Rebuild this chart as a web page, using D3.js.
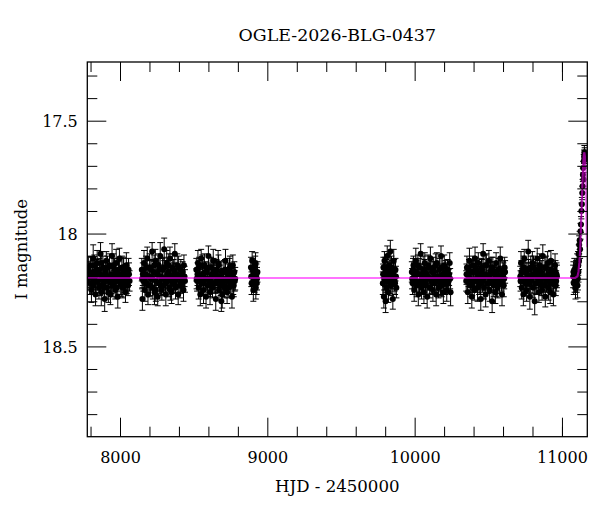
<!DOCTYPE html>
<html>
<head>
<meta charset="utf-8">
<script src="https://cdn.jsdelivr.net/npm/d3@7"></script>
<style>
  body { margin: 0; background: #fff; }
  svg { font-family: "DejaVu Serif", serif; }
</style>
</head>
<body>
<div id="chart"></div>
<script>
// OGLE light curve, one array per observing season: [HJD-2450000, I mag, error]
const s2017 = [
  [7783,18.20,.05],[7790,18.17,.045],[7795,18.22,.05],[7801,18.14,.04],[7806,18.25,.055],[7812,18.19,.045],[7818,18.11,.06],[7822,18.23,.04],[7829,18.20,.05],[7834,18.27,.05],[7840,18.16,.045],
  [7845,18.13,.055],[7851,18.21,.04],[7857,18.24,.05],[7862,18.18,.045],[7868,18.09,.05],[7873,18.26,.06],[7879,18.20,.04],[7884,18.15,.05],[7890,18.22,.045],[7896,18.29,.055],
  [7901,18.17,.05],[7907,18.12,.04],[7912,18.24,.05],[7918,18.19,.045],[7924,18.21,.06],[7929,18.14,.05],[7935,18.27,.045],[7940,18.18,.04],[7946,18.10,.055],[7952,18.23,.05],
  [7957,18.20,.045],[7963,18.16,.05],[7968,18.25,.04],[7974,18.13,.06],[7980,18.21,.045],[7985,18.28,.05],[7991,18.18,.055],[7996,18.11,.045],[8002,18.22,.05],[8008,18.19,.04],
  [8013,18.15,.05],[8019,18.24,.045],[8025,18.17,.06],[8031,18.21,.05],[8037,18.26,.045],[8043,18.14,.055],[8049,18.20,.05],[8055,18.23,.045],[8061,18.18,.05],
  [7787,18.15,.045],[7798,18.19,.05],[7809,18.22,.045],[7815,18.17,.05],[7826,18.14,.045],[7837,18.21,.05],[7848,18.18,.045],[7859,18.16,.05],[7865,18.23,.045],[7876,18.13,.05],
  [7887,18.19,.045],[7893,18.24,.05],[7904,18.20,.045],[7915,18.15,.05],[7921,18.26,.045],[7932,18.19,.05],[7943,18.22,.045],[7955,18.14,.05],[7960,18.21,.045],[7971,18.18,.05],
  [7977,18.24,.045],[7988,18.16,.05],[7999,18.20,.045],[8011,18.23,.05],[8022,18.15,.045],[8034,18.19,.05],[8046,18.22,.045],[8058,18.16,.05],[8065,18.21,.045]
];
const s2018 = [
  [8148,18.16,.05],[8152,18.29,.05],[8158,18.21,.045],[8163,18.13,.055],[8169,18.25,.05],[8174,18.18,.045],[8180,18.22,.04],[8185,18.11,.05],[8190,18.27,.045],[8196,18.19,.05],
  [8201,18.15,.06],[8207,18.23,.045],[8212,18.20,.05],[8218,18.08,.04],[8223,18.24,.05],[8229,18.17,.045],[8234,18.26,.055],[8240,18.12,.05],[8245,18.21,.045],[8251,18.18,.05],
  [8256,18.28,.04],[8262,18.14,.05],[8267,18.22,.045],[8273,18.10,.06],[8278,18.19,.05],[8284,18.25,.045],[8289,18.16,.05],[8295,18.23,.04],[8300,18.07,.05],[8306,18.20,.045],
  [8311,18.27,.05],[8317,18.13,.055],[8322,18.21,.045],[8328,18.17,.05],[8333,18.24,.04],[8339,18.11,.05],[8344,18.19,.045],[8350,18.26,.05],[8355,18.15,.06],[8361,18.22,.045],
  [8366,18.18,.05],[8372,18.09,.045],[8377,18.24,.05],[8383,18.20,.04],[8389,18.14,.05],[8395,18.27,.045],[8401,18.19,.05],[8407,18.23,.055],[8413,18.16,.045],[8419,18.21,.05],
  [8425,18.17,.045],[8431,18.25,.05],[8438,18.19,.045],
  [8150,18.20,.045],[8155,18.18,.05],[8166,18.21,.045],[8177,18.15,.05],[8188,18.19,.045],[8199,18.23,.05],[8210,18.16,.045],[8221,18.20,.05],[8232,18.14,.045],[8243,18.25,.05],
  [8254,18.18,.045],[8265,18.16,.05],[8276,18.23,.045],[8287,18.20,.05],[8298,18.15,.045],[8309,18.22,.05],[8320,18.18,.045],[8331,18.14,.05],[8342,18.25,.045],[8353,18.20,.05],
  [8364,18.16,.045],[8375,18.21,.05],[8386,18.18,.045],[8398,18.15,.05],[8410,18.22,.045],[8422,18.19,.05],[8434,18.14,.045],[8441,18.21,.05]
];
const s2019 = [
  [8518,18.16,.05],[8523,18.21,.045],[8529,18.13,.055],[8534,18.24,.05],[8540,18.19,.045],[8545,18.27,.05],[8551,18.11,.04],[8556,18.22,.05],[8562,18.18,.045],[8567,18.25,.06],
  [8573,18.14,.05],[8578,18.20,.045],[8584,18.28,.05],[8589,18.17,.04],[8595,18.23,.05],[8600,18.10,.045],[8606,18.21,.05],[8611,18.26,.055],[8617,18.15,.045],[8622,18.19,.05],
  [8628,18.24,.045],[8633,18.12,.05],[8639,18.22,.04],[8644,18.18,.05],[8650,18.29,.05],[8655,18.16,.045],[8661,18.21,.05],[8666,18.13,.055],[8672,18.25,.045],[8677,18.19,.05],
  [8683,18.23,.045],[8688,18.30,.045],[8694,18.27,.06],[8699,18.20,.045],[8705,18.17,.05],[8710,18.24,.045],[8716,18.12,.05],[8721,18.21,.04],[8727,18.26,.05],[8732,18.18,.045],
  [8738,18.18,.05],[8743,18.16,.05],[8749,18.22,.045],[8754,18.19,.055],[8760,18.28,.05],[8766,18.14,.045],[8772,18.23,.05],[8779,18.21,.045],
  [8520,18.20,.045],[8526,18.18,.05],[8537,18.15,.045],[8548,18.21,.05],[8559,18.14,.045],[8570,18.22,.05],[8581,18.17,.045],[8592,18.20,.05],[8603,18.15,.045],[8614,18.23,.05],
  [8625,18.18,.045],[8636,18.16,.05],[8647,18.22,.045],[8658,18.19,.05],[8669,18.14,.045],[8680,18.21,.05],[8691,18.17,.045],[8702,18.23,.05],[8713,18.16,.045],[8724,18.20,.05],
  [8735,18.24,.045],[8746,18.15,.05],[8757,18.20,.045],[8769,18.22,.05],[8776,18.17,.045],[8782,18.20,.05]
];
const s2020 = [
  [8889,18.15,.045],[8893,18.22,.05],[8897,18.12,.04],[8901,18.19,.045],[8905,18.25,.05],[8909,18.17,.045],
  [8913,18.21,.05],[8918,18.14,.04],[8922,18.24,.05],[8926,18.18,.045],[8930,18.20,.05],
  [8891,18.19,.045],[8899,18.16,.05],[8907,18.21,.045],[8915,18.18,.05],[8920,18.13,.045],[8928,18.22,.05],[8933,18.17,.045]
];
const s2022 = [
  [9784,18.22,.05],[9788,18.15,.045],[9791,18.28,.05],[9795,18.12,.04],[9799,18.19,.045],[9803,18.30,.05],[9806,18.16,.045],[9810,18.24,.05],[9814,18.10,.045],[9818,18.21,.05],
  [9822,18.26,.045],[9826,18.14,.05],[9830,18.19,.045],[9835,18.08,.05],[9840,18.23,.045],[9846,18.17,.05],[9852,18.29,.045],[9858,18.12,.05],[9864,18.21,.045],[9870,18.16,.05],[9876,18.24,.045],
  [9786,18.18,.045],[9793,18.20,.05],[9801,18.15,.045],[9808,18.21,.05],[9816,18.17,.045],[9824,18.19,.05],[9832,18.22,.045],[9843,18.15,.05],[9849,18.20,.045],[9855,18.18,.05],
  [9861,18.16,.045],[9867,18.22,.05],[9873,18.19,.045]
];
const s2023 = [
  [9981,18.17,.045],[9986,18.22,.05],[9992,18.14,.04],[9997,18.25,.05],[10003,18.19,.045],[10008,18.12,.055],[10014,18.23,.05],[10019,18.18,.045],[10025,18.27,.05],[10030,18.15,.04],
  [10036,18.21,.05],[10041,18.09,.045],[10047,18.24,.05],[10052,18.19,.045],[10058,18.16,.06],[10063,18.26,.05],[10069,18.13,.045],[10074,18.22,.05],[10080,18.18,.04],[10085,18.28,.05],
  [10091,18.14,.045],[10096,18.20,.05],[10102,18.24,.045],[10107,18.11,.05],[10113,18.21,.055],[10118,18.17,.045],[10124,18.25,.05],[10129,18.15,.045],[10135,18.22,.05],[10140,18.19,.04],
  [10146,18.27,.05],[10151,18.13,.045],[10157,18.20,.05],[10162,18.24,.045],[10168,18.16,.05],[10173,18.21,.06],[10179,18.10,.045],[10184,18.23,.05],[10190,18.18,.045],[10195,18.26,.05],
  [10201,18.14,.045],[10206,18.22,.05],[10212,18.19,.045],[10218,18.25,.05],[10224,18.16,.045],[10231,18.21,.05],[10238,18.13,.045],[10244,18.26,.06],
  [9983,18.20,.045],[9989,18.16,.05],[10000,18.21,.045],[10011,18.17,.05],[10022,18.14,.045],[10033,18.22,.05],[10044,18.18,.045],[10055,18.21,.05],[10066,18.16,.045],[10077,18.23,.05],
  [10088,18.19,.045],[10099,18.15,.05],[10110,18.20,.045],[10121,18.22,.05],[10132,18.17,.045],[10143,18.14,.05],[10154,18.21,.045],[10165,18.19,.05],[10176,18.23,.045],[10187,18.15,.05],
  [10198,18.20,.045],[10209,18.17,.05],[10221,18.22,.045],[10234,18.18,.05],[10241,18.20,.045]
];
const s2024 = [
  [10350,18.21,.045],[10355,18.15,.05],[10361,18.26,.05],[10366,18.19,.045],[10372,18.12,.055],[10377,18.23,.05],[10383,18.17,.045],[10388,18.28,.05],[10394,18.14,.04],[10399,18.21,.05],
  [10405,18.25,.045],[10410,18.11,.05],[10416,18.20,.045],[10421,18.17,.05],[10427,18.24,.06],[10432,18.13,.045],[10438,18.22,.05],[10443,18.19,.045],[10449,18.29,.05],[10454,18.15,.04],
  [10460,18.21,.05],[10465,18.09,.045],[10471,18.24,.05],[10476,18.18,.045],[10482,18.27,.055],[10487,18.14,.05],[10493,18.22,.045],[10498,18.19,.05],[10504,18.12,.045],[10509,18.25,.05],
  [10515,18.17,.045],[10520,18.21,.05],[10526,18.30,.05],[10531,18.15,.045],[10537,18.23,.05],[10542,18.18,.04],[10548,18.26,.05],[10553,18.13,.045],[10559,18.20,.05],[10564,18.24,.045],
  [10570,18.16,.05],[10575,18.22,.045],[10581,18.11,.05],[10587,18.19,.045],[10593,18.27,.05],[10599,18.17,.045],[10605,18.23,.05],[10611,18.15,.045],
  [10352,18.18,.045],[10358,18.21,.05],[10369,18.16,.045],[10380,18.20,.05],[10391,18.23,.045],[10402,18.17,.05],[10413,18.15,.045],[10424,18.21,.05],[10435,18.18,.045],[10446,18.22,.05],
  [10457,18.16,.045],[10468,18.20,.05],[10479,18.14,.045],[10490,18.19,.05],[10501,18.22,.045],[10512,18.18,.05],[10523,18.15,.045],[10534,18.21,.05],[10545,18.17,.045],[10556,18.23,.05],
  [10567,18.19,.045],[10578,18.16,.05],[10590,18.21,.045],[10602,18.18,.05],[10608,18.20,.045],[10614,18.17,.05]
];
const s2025 = [
  [10717,18.19,.045],[10722,18.13,.05],[10727,18.24,.05],[10733,18.17,.045],[10738,18.27,.05],[10744,18.11,.04],[10749,18.21,.05],[10755,18.16,.045],[10760,18.25,.05],[10766,18.19,.045],
  [10771,18.08,.05],[10777,18.22,.045],[10782,18.28,.055],[10788,18.15,.05],[10793,18.20,.045],[10799,18.13,.05],[10804,18.24,.045],[10810,18.18,.05],[10815,18.30,.06],[10821,18.16,.045],
  [10826,18.22,.05],[10832,18.11,.045],[10837,18.19,.05],[10843,18.26,.045],[10848,18.14,.05],[10854,18.21,.04],[10859,18.17,.05],[10865,18.25,.045],[10870,18.10,.05],[10876,18.23,.045],
  [10881,18.19,.05],[10887,18.28,.045],[10892,18.15,.05],[10898,18.21,.045],[10903,18.13,.05],[10909,18.24,.055],[10914,18.18,.045],[10920,18.26,.05],[10925,18.12,.045],[10931,18.22,.05],
  [10936,18.17,.045],[10942,18.27,.05],[10947,18.20,.045],[10953,18.14,.05],[10958,18.23,.045],[10963,18.18,.05],
  [10719,18.21,.045],[10725,18.17,.05],[10730,18.20,.045],[10741,18.15,.05],[10752,18.22,.045],[10763,18.18,.05],[10774,18.16,.045],[10785,18.21,.05],[10796,18.19,.045],[10807,18.15,.05],
  [10818,18.22,.045],[10829,18.18,.05],[10840,18.20,.045],[10851,18.16,.05],[10862,18.23,.045],[10873,18.19,.05],[10884,18.15,.045],[10895,18.21,.05],[10906,18.18,.045],[10917,18.20,.05],
  [10928,18.16,.045],[10939,18.22,.05],[10950,18.19,.045],[10956,18.17,.05],[10961,18.21,.045],[10966,18.19,.05]
];
const s2026 = [
  [11076,18.19,.05],[11080,18.22,.05],[11084,18.16,.05],[11088,18.20,.045],[11092,18.24,.05],[11096,18.17,.05],[11100,18.21,.05],[11103,18.14,.05],
  [11106,18.23,.055],[11109,18.12,.04],[11112,18.17,.045],[11114,18.09,.04],[11117,18.05,.04],[11120,18.03,.04],[11123,18.07,.04],[11126,17.99,.035],
  [11129,17.96,.035],[11132,17.90,.035],[11135,17.87,.03],[11138,17.82,.03],[11140,17.79,.03],[11142,17.74,.03],[11144,17.71,.03],[11146,17.76,.03],
  [11148,17.68,.03],[11150,17.66,.03],[11152,17.64,.03],[11154,17.65,.03],[11156,17.67,.03],
  [11078,18.17,.045],[11086,18.21,.05],[11094,18.19,.045],[11101,18.18,.05],[11108,18.20,.05],[11111,18.14,.045],[11116,18.12,.04]
];

// model curve
const modelT   = [7778, 11090, 11105, 11112, 11118, 11123, 11128, 11133, 11138, 11143, 11148, 11152, 11156, 11160, 11164, 11168, 11172];
const modelMag = [18.197, 18.197, 18.19, 18.17, 18.13, 18.08, 18.00, 17.90, 17.80, 17.71, 17.655, 17.64, 17.66, 17.75, 17.87, 18.00, 18.06];

const xMajor = [8000, 9000, 10000, 11000];
const xMinor = [7800, 8200, 8400, 8600, 8800, 9200, 9400, 9600, 9800, 10200, 10400, 10600, 10800, 11000];
const yMajor = [17.5, 18, 18.5];
const yMinor = [17.3, 17.4, 17.6, 17.7, 17.8, 17.9, 18.1, 18.2, 18.3, 18.4, 18.6, 18.7, 18.8];

const title = "OGLE-2026-BLG-0437";

const W = 600, H = 512;
const mLeft = 87.3, mRight = 587.3, mTop = 62, mBottom = 436.7;

const svg = d3.select("#chart").append("svg")
    .attr("width", W)
    .attr("height", H);

const x = d3.scaleLinear().domain([7778, 11172]).range([mLeft, mRight]);
const y = d3.scaleLinear().domain([17.24, 18.9]).range([mTop, mBottom]);

svg.append("defs").append("clipPath").attr("id", "clip")
  .append("rect")
    .attr("x", mLeft).attr("y", mTop)
    .attr("width", mRight - mLeft).attr("height", mBottom - mTop);

const data = [].concat(s2017, s2018, s2019, s2020, s2022, s2023, s2024, s2025, s2026);

const plot = svg.append("g").attr("clip-path", "url(#clip)");

// error bars
const eb = plot.append("g").attr("stroke", "#000").attr("stroke-width", 1);
eb.selectAll("line.bar").data(data).enter().append("line")
    .attr("x1", d => x(d[0])).attr("x2", d => x(d[0]))
    .attr("y1", d => y(d[1] - d[2])).attr("y2", d => y(d[1] + d[2]));
eb.selectAll("line.capt").data(data).enter().append("line")
    .attr("x1", d => x(d[0]) - 3).attr("x2", d => x(d[0]) + 3)
    .attr("y1", d => y(d[1] - d[2])).attr("y2", d => y(d[1] - d[2]));
eb.selectAll("line.capb").data(data).enter().append("line")
    .attr("x1", d => x(d[0]) - 3).attr("x2", d => x(d[0]) + 3)
    .attr("y1", d => y(d[1] + d[2])).attr("y2", d => y(d[1] + d[2]));

// points
plot.append("g").selectAll("circle").data(data).enter().append("circle")
    .attr("cx", d => x(d[0]))
    .attr("cy", d => y(d[1]))
    .attr("r", 3)
    .attr("fill", "#000");

// model
const line = d3.line().x(d => x(d[0])).y(d => y(d[1]));
plot.append("path")
    .datum(modelT.map((t, i) => [t, modelMag[i]]))
    .attr("d", line)
    .attr("fill", "none")
    .attr("stroke", "#ff00ff")
    .attr("stroke-opacity", 0.55)
    .attr("stroke-width", 2.2);

// axes, ticks pointing inward on all four sides
function styleAxis(g) {
  g.select(".domain").remove();
  g.selectAll(".tick line").attr("stroke", "#000").attr("stroke-width", 1);
  g.selectAll("text").attr("fill", "#000").style("font-family", "DejaVu Serif").style("font-size", "16px");
}

svg.append("g").attr("transform", `translate(0,${mBottom})`)
    .call(d3.axisBottom(x).tickValues(xMajor).tickSize(-19).tickFormat(d3.format("d")))
    .call(styleAxis)
    .call(g => g.selectAll("text").attr("y", 26.5).attr("dy", null));
svg.append("g").attr("transform", `translate(0,${mBottom})`)
    .call(d3.axisBottom(x).tickValues(xMinor).tickSize(-10).tickFormat(""))
    .call(styleAxis);
svg.append("g").attr("transform", `translate(0,${mTop})`)
    .call(d3.axisTop(x).tickValues(xMajor).tickSize(-19).tickFormat(""))
    .call(styleAxis);
svg.append("g").attr("transform", `translate(0,${mTop})`)
    .call(d3.axisTop(x).tickValues(xMinor).tickSize(-10).tickFormat(""))
    .call(styleAxis);

svg.append("g").attr("transform", `translate(${mLeft},0)`)
    .call(d3.axisLeft(y).tickValues(yMajor).tickSize(-19).tickFormat(d => d === 18 ? "18" : d3.format(".1f")(d)))
    .call(styleAxis)
    .call(g => g.selectAll("text").attr("x", -9.5).attr("dy", "0.36em"));
svg.append("g").attr("transform", `translate(${mLeft},0)`)
    .call(d3.axisLeft(y).tickValues(yMinor).tickSize(-10).tickFormat(""))
    .call(styleAxis);
svg.append("g").attr("transform", `translate(${mRight},0)`)
    .call(d3.axisRight(y).tickValues(yMajor).tickSize(-19).tickFormat(""))
    .call(styleAxis);
svg.append("g").attr("transform", `translate(${mRight},0)`)
    .call(d3.axisRight(y).tickValues(yMinor).tickSize(-10).tickFormat(""))
    .call(styleAxis);

// frame
svg.append("rect")
    .attr("x", mLeft).attr("y", mTop)
    .attr("width", mRight - mLeft).attr("height", mBottom - mTop)
    .attr("fill", "none")
    .attr("stroke", "#000")
    .attr("stroke-width", 1.3);

// labels
svg.append("text")
    .attr("x", (mLeft + mRight) / 2).attr("y", 40.5)
    .attr("text-anchor", "middle")
    .style("font-size", "17.4px")
    .text(title);

svg.append("text")
    .attr("x", (mLeft + mRight) / 2).attr("y", 491.5)
    .attr("text-anchor", "middle")
    .style("font-size", "16.6px")
    .text("HJD - 2450000");

svg.append("text")
    .attr("transform", `translate(27,${(mTop + mBottom) / 2}) rotate(-90)`)
    .attr("text-anchor", "middle")
    .style("font-size", "16.4px")
    .text("I magnitude");
</script>
</body>
</html>
